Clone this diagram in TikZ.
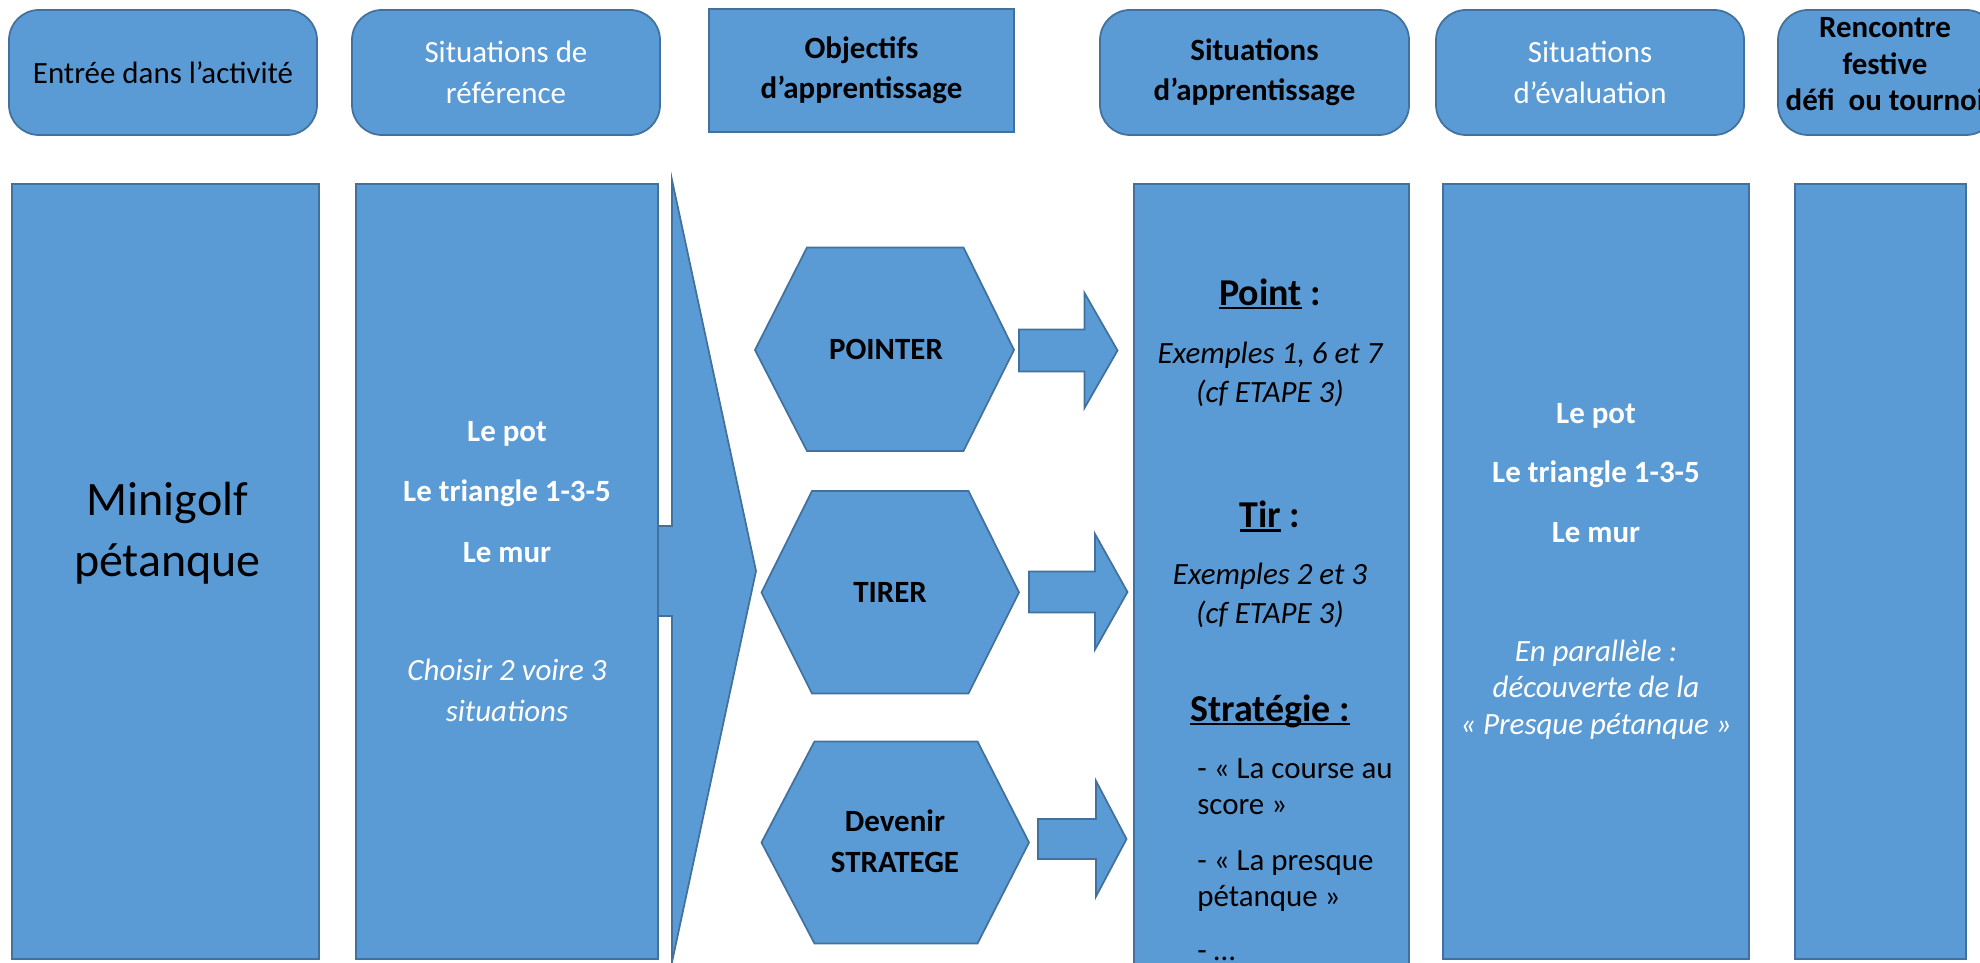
\documentclass[tikz,border=0pt]{standalone}
\usepackage{fontspec}
\setmainfont{Carlito}
\definecolor{bleu}{HTML}{5B9BD5}
\definecolor{bordure}{HTML}{41719C}
\newcommand{\souligne}[1]{\setbox0\hbox{#1}\rlap{\rule[-2.2pt]{\wd0}{1.3pt}}\box0\relax}
\begin{document}
\begin{tikzpicture}[
    bloc/.style={draw=bordure, fill=bleu, line width=1pt, inner sep=0pt},
    tete/.style={bloc, rounded corners=0.6cm, minimum height=2.5cm, align=center, font=\fontsize{17.6}{23}\selectfont},
    corps/.style={bloc, minimum height=15.5cm, align=center, font=\fontsize{17.6}{23.3}\selectfont},
    gras/.style={font=\fontsize{17.6}{23}\selectfont\bfseries},
    titre/.style={font=\fontsize{21.6}{26}\selectfont\bfseries},
    ital/.style={align=center, font=\fontsize{17.6}{22.5}\selectfont\itshape},
    liste/.style={anchor=west, align=left, inner sep=0pt, font=\fontsize{17.6}{20.5}\selectfont}
  ]
      \useasboundingbox (0,0) rectangle (39.6,19.26);%
      \clip (0,0) rectangle (39.6,19.26);%

      % ligne du haut
      \node[tete, minimum width=6.16cm] (H1) at (3.26,17.81) {Entrée dans l’activité};%
      \node[tete, minimum width=6.16cm, text=white] (H2) at (10.12,17.81) {Situations de\\référence};%
      \node[tete, gras, sharp corners, minimum width=6.10cm, minimum height=2.46cm, align=center] (H3) at (17.23,17.85) {Objectifs\\d’apprentissage};%
      \node[tete, gras, minimum width=6.18cm, align=center] (H4) at (25.09,17.81) {Situations\\d’apprentissage};%
      \node[tete, minimum width=6.16cm, text=white] (H5) at (31.80,17.81) {Situations\\d’évaluation};%
      \node[tete, minimum width=4.36cm] (H6) at (37.74,17.81) {};%
      \node[align=center, font=\fontsize{17.6}{20.8}\selectfont\bfseries] (T6) at (37.70,17.97) {Rencontre\\festive\\défi~ ou tournoi};%

      % grande fleche
      \draw[bloc] (12.5,8.74) -- (13.44,8.74) -- (13.44,15.66) -- (15.12,7.84) -- (13.44,0.02) -- (13.44,6.94) -- (12.5,6.94) -- cycle;%

      % colonnes
      \node[corps, minimum width=6.14cm] (C1) at (3.31,7.83) {};%
      \node[align=center, font=\fontsize{27.3}{34.7}\selectfont] (M) at (3.35,8.60) {Minigolf\\pétanque};%

      \node[corps, minimum width=6.04cm, text=white] (C2) at (10.14,7.83) {\textbf{Le pot}\\[11pt]\textbf{Le triangle 1-3-5}\\[11pt]\textbf{Le mur}\\[44pt]\textit{Choisir 2 voire 3}\\\textit{situations}};%

      \node[corps, minimum width=5.50cm, minimum height=16.2cm] (C4) at (25.43,7.48) {};%
      \node[corps, minimum width=6.12cm, text=white, font=\fontsize{17.6}{20.8}\selectfont] (C5) at (31.92,7.83) {\textbf{Le pot}\\[13pt]\textbf{Le triangle 1-3-5}\\[13pt]\textbf{Le mur}\\[47pt]\textit{En parallèle :}\\\textit{découverte de la}\\\textit{« Presque pétanque »}};%
      \node[corps, minimum width=3.42cm] (C6) at (37.61,7.83) {};%

      % objectifs
      \draw[bloc] (15.10,12.26) -- (16.14,14.31) -- (19.27,14.31) -- (20.28,12.26) -- (19.27,10.24) -- (16.14,10.24) -- cycle;%
      \draw[bloc] (15.23,7.41) -- (16.24,9.44) -- (19.37,9.44) -- (20.38,7.41) -- (19.37,5.39) -- (16.24,5.39) -- cycle;%
      \draw[bloc] (15.23,2.41) -- (16.29,4.43) -- (19.55,4.43) -- (20.58,2.41) -- (19.55,0.39) -- (16.29,0.39) -- cycle;%
      \node[gras] (P1) at (17.72,12.27) {POINTER};%
      \node[gras] (P2) at (17.80,7.41) {TIRER};%
      \node[align=center, font=\fontsize{17.6}{23.6}\selectfont\bfseries] (P3) at (17.90,2.43) {Devenir\\STRATEGE};%

      \draw[bloc] (20.38,11.83) -- (21.69,11.83) -- (21.69,11.10) -- (22.35,12.25) -- (21.69,13.40) -- (21.69,12.67) -- (20.38,12.67) -- cycle;%
      \draw[bloc] (20.58,7.01) -- (21.90,7.01) -- (21.90,6.27) -- (22.55,7.42) -- (21.90,8.58) -- (21.90,7.83) -- (20.58,7.83) -- cycle;%
      \draw[bloc] (20.76,2.08) -- (21.92,2.08) -- (21.92,1.33) -- (22.53,2.48) -- (21.92,3.64) -- (21.92,2.88) -- (20.76,2.88) -- cycle;%

      % situations d'apprentissage
      \node[titre] (S1) at (25.40,13.38) {\souligne{Point} :};%
      \node[ital] (S2) at (25.40,11.77) {Exemples 1, 6 et 7\\(cf ETAPE 3)};%
      \node[titre] (S3) at (25.40,8.93) {\souligne{Tir} :};%
      \node[ital] (S4) at (25.40,7.35) {Exemples 2 et 3\\(cf ETAPE 3)};%
      \node[titre] (S5) at (25.40,5.03) {\souligne{Stratégie :}};%
      \node[liste] (S6) at (23.94,3.52) {- « La course au\\score »};%
      \node[liste] (S7) at (23.94,1.64) {- « La presque\\pétanque »};%
      \node[liste] (S8) at (23.94,0.15) {- …};%
\end{tikzpicture}
\end{document}
